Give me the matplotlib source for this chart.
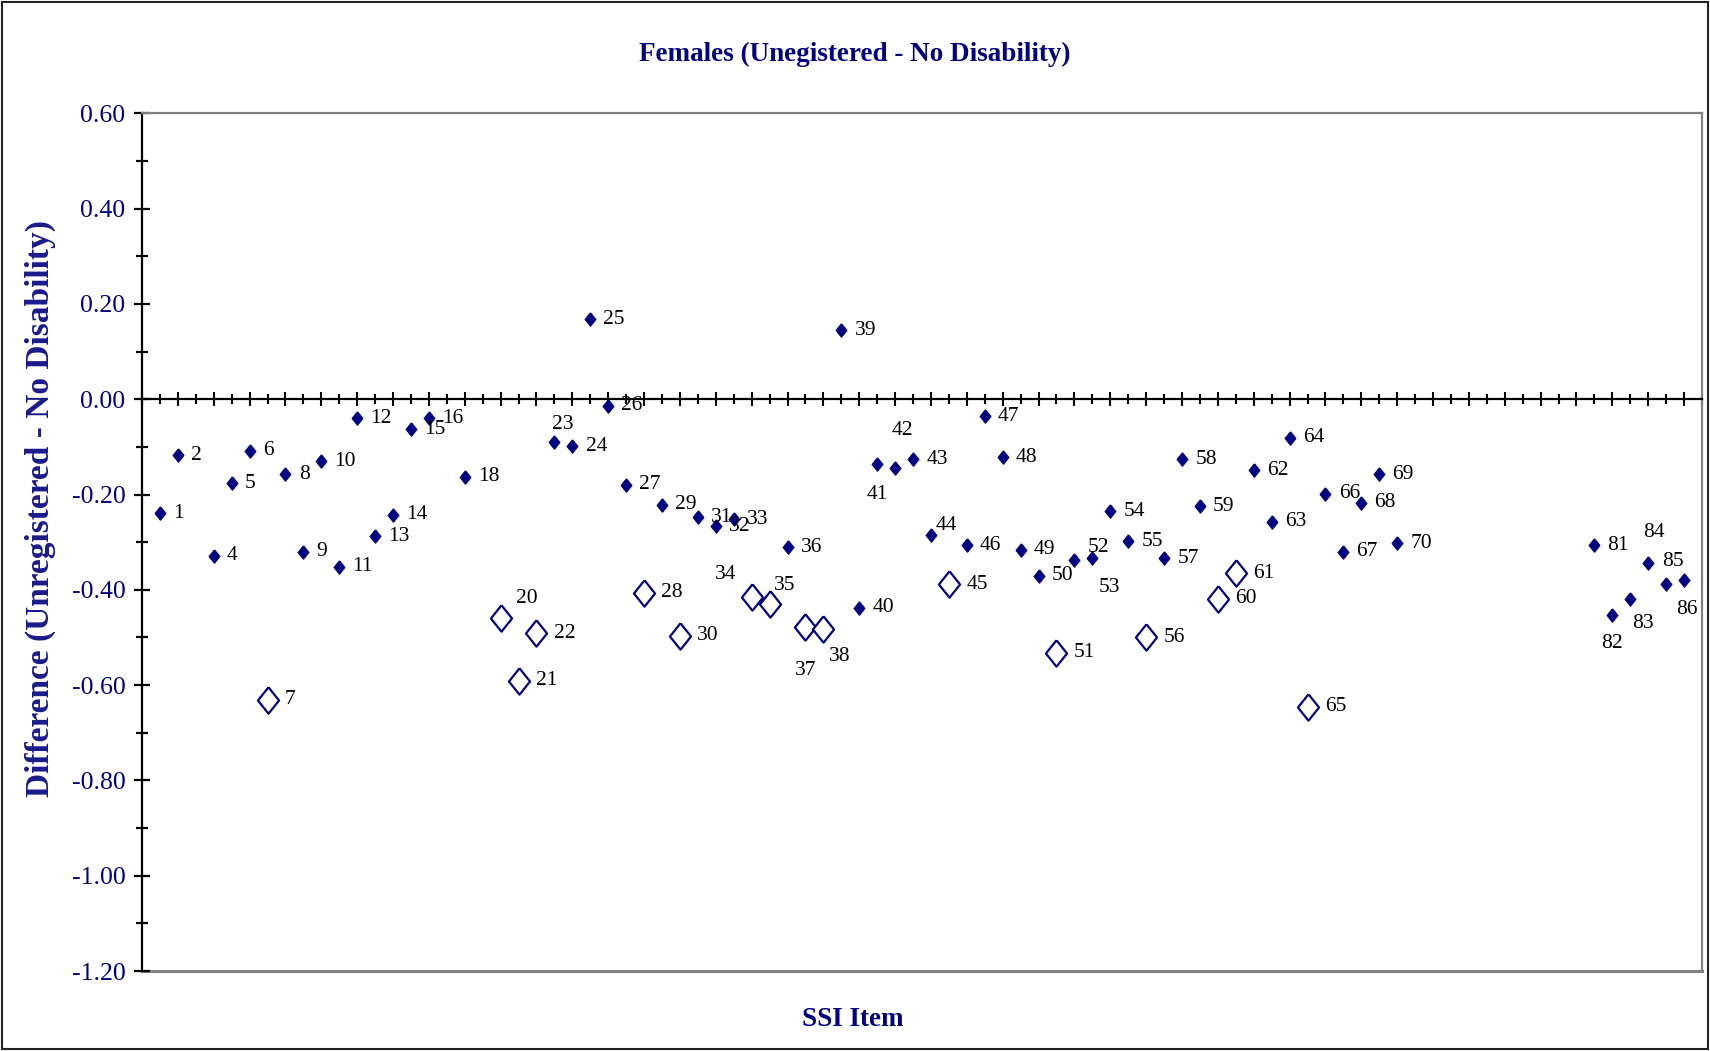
import matplotlib
matplotlib.use('Agg')
import matplotlib.pyplot as plt
from matplotlib.patches import Rectangle
from matplotlib.ticker import MultipleLocator, NullFormatter, FormatStrFormatter

# items with a small difference (filled markers)
filled_items = [1, 2, 4, 5, 6, 8, 9, 10, 11, 12, 13, 14, 15, 16, 18, 23, 24, 25, 26, 27,
                29, 31, 32, 33, 36, 39, 40, 41, 42, 43, 44, 46, 47, 48, 49, 50, 52, 53, 54,
                55, 57, 58, 59, 62, 63, 64, 66, 67, 68, 69, 70, 81, 82, 83, 84, 85, 86]
filled_values = [-0.239, -0.118, -0.329, -0.176, -0.108, -0.158, -0.320, -0.130, -0.352, -0.040,
                 -0.288, -0.243, -0.063, -0.040, -0.163, -0.090, -0.099, 0.168, -0.014, -0.180,
                 -0.221, -0.248, -0.267, -0.252, -0.311, 0.145, -0.438, -0.135, -0.145, -0.126,
                 -0.285, -0.307, -0.036, -0.122, -0.316, -0.371, -0.338, -0.334, -0.235,
                 -0.298, -0.334, -0.126, -0.225, -0.149, -0.257, -0.081, -0.198, -0.320, -0.217,
                 -0.158, -0.302, -0.306, -0.452, -0.419, -0.343, -0.388, -0.380]

# items with a large difference (open markers)
open_items = [7, 20, 21, 22, 28, 30, 34, 35, 37, 38, 45, 51, 56, 60, 61, 65]
open_values = [-0.631, -0.460, -0.591, -0.491, -0.406, -0.496, -0.415, -0.429, -0.479, -0.482,
               -0.388, -0.532, -0.500, -0.419, -0.365, -0.645]

title = 'Females (Unegistered - No Disability)'
xlabel = 'SSI Item'
ylabel = 'Difference (Unregistered - No Disability)'

navy = '#000080'
serif = ['Liberation Serif', 'DejaVu Serif']

# label placement that differs from "just right of the marker" (offset points, centred)
special = {20: (19, 14), 23: (6, 13), 34: (-19, 16), 35: (11, 13), 37: (0, -31),
           38: (12, -20), 41: (0, -22), 42: (5, 27), 44: (11, 7), 52: (17, 9),
           53: (12, -21), 82: (0, -21), 83: (9, -18), 84: (4, 22), 85: (5, 16),
           86: (2, -21)}

fig = plt.figure(figsize=(17.1, 10.51), dpi=100)
W, H = 1710, 1051
ax = fig.add_axes([142 / W, 1 - 971 / H, (1702 - 142) / W, (971 - 113.3) / H])

diamond = [(0, 1), (0.8, 0), (0, -1), (-0.8, 0), (0, 1)]
ax.plot(filled_items, filled_values, linestyle='none', marker=diamond, ms=9.5,
        color=navy, mec=navy, zorder=3)
ax.plot(open_items, open_values, linestyle='none', marker=diamond, ms=19,
        mfc='white', mec=navy, mew=1.6, zorder=3)

def put_label(i, v, big):
    if i in special:
        dx, dy = special[i]
        ha = 'center'
    else:
        dx, dy = (12.5 if big else 9.5), 0
        ha = 'left'
    ax.annotate(str(i), (i, v), xytext=(dx, dy), textcoords='offset points',
                ha=ha, va='center', fontsize=15.5, family=serif, color='black')

for i, v in zip(filled_items, filled_values):
    put_label(i, v, False)
for i, v in zip(open_items, open_values):
    put_label(i, v, True)

ax.set_xlim(0, 87)
ax.set_ylim(-1.2, 0.6)

ax.spines['bottom'].set_position(('data', 0))
ax.spines['bottom'].set_color('black')
ax.spines['bottom'].set_linewidth(1.6)
ax.spines['left'].set_color('black')
ax.spines['left'].set_linewidth(1.6)
for s in ['top', 'right']:
    ax.spines[s].set_color('#808080')
    ax.spines[s].set_linewidth(1.6)
ax.axhline(-1.2, color='#808080', lw=2.2, clip_on=False, zorder=1)

ax.xaxis.set_major_locator(MultipleLocator(2))
ax.xaxis.set_minor_locator(MultipleLocator(1))
ax.xaxis.set_major_formatter(NullFormatter())
ax.tick_params(axis='x', which='major', direction='inout', length=10, width=1.5)
ax.tick_params(axis='x', which='minor', direction='inout', length=6.5, width=1.5)

ax.yaxis.set_major_locator(MultipleLocator(0.2))
ax.yaxis.set_minor_locator(MultipleLocator(0.1))
ax.yaxis.set_major_formatter(FormatStrFormatter('%.2f'))
ax.tick_params(axis='y', which='major', direction='inout', length=12, width=1.6,
               labelsize=18.5, labelcolor=navy, pad=6)
ax.tick_params(axis='y', which='minor', direction='inout', length=8, width=1.6)
for t in ax.get_yticklabels():
    t.set_family(serif)

fig.text(0.5, 1 - 54 / H, title, ha='center', va='center', fontsize=19.5,
         fontweight='bold', color=navy, family=serif)
fig.text(853 / W, 1 - 1020 / H, xlabel, ha='center', va='center', fontsize=19.5,
         fontweight='bold', color=navy, family=serif)
fig.text(40 / W, 1 - 508 / H, ylabel, ha='center', va='center', rotation=90,
         fontsize=24, fontweight='bold', color='#1a1a8c', family=serif)

fig.add_artist(Rectangle((0.0012, 0.0015), 0.9976, 0.997, transform=fig.transFigure,
                         fill=False, ec='#222222', lw=1.5))

fig.savefig('out.png', dpi=100)
